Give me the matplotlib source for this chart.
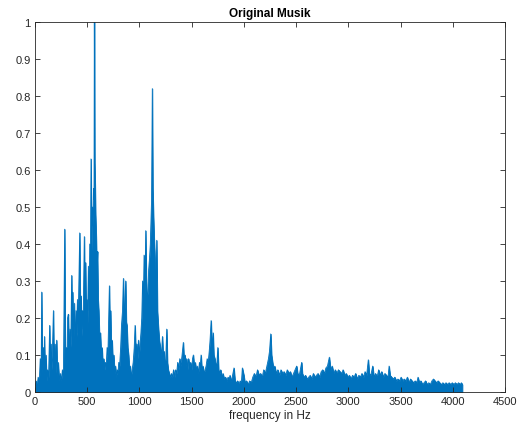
import matplotlib
matplotlib.use("Agg")
import matplotlib.pyplot as plt

# outline of the spectrum (Hz, normalized magnitude)
freq = [0, 10, 20, 30, 40, 50, 58, 64, 70, 80, 86, 90, 96, 104, 112, 120, 130, 140, 146, 152,
        158, 166, 176, 182, 190, 198, 207, 214, 222, 232, 242, 252, 262, 272, 284, 290, 300, 306, 312, 319,
        326, 334, 342, 351, 356, 361, 368, 376, 384, 392, 398, 406, 412, 420, 428, 434, 440, 446, 454, 460,
        466, 472, 478, 484, 490, 496, 502, 511, 518, 524, 530, 536, 542, 548, 554, 560, 565, 568, 572, 576,
        580, 586, 592, 598, 604, 610, 618, 626, 634, 642, 650, 658, 666, 674, 682, 690, 698, 706, 712, 718,
        724, 730, 738, 746, 754, 762, 770, 778, 786, 794, 802, 810, 820, 828, 838, 846, 852, 860, 868, 874,
        880, 888, 896, 904, 912, 920, 930, 940, 950, 958, 966, 974, 982, 990, 998, 1006, 1014, 1022, 1030, 1038,
        1044, 1052, 1060, 1066, 1072, 1080, 1088, 1096, 1104, 1110, 1116, 1123, 1128, 1134, 1140, 1146, 1152, 1160, 1165, 1172,
        1180, 1190, 1200, 1210, 1220, 1228, 1236, 1244, 1252, 1261, 1268, 1276, 1286, 1296, 1306, 1316, 1326, 1336, 1346, 1356,
        1366, 1376, 1386, 1396, 1408, 1420, 1428, 1436, 1444, 1452, 1460, 1470, 1480, 1490, 1500, 1508, 1516, 1524, 1534, 1544,
        1554, 1564, 1574, 1582, 1590, 1598, 1608, 1618, 1628, 1638, 1648, 1658, 1668, 1676, 1686, 1694, 1705, 1712, 1722, 1732,
        1742, 1750, 1758, 1768, 1778, 1790, 1800, 1812, 1824, 1836, 1848, 1858, 1867, 1876, 1888, 1905, 1915, 1928, 1940, 1952,
        1964, 1976, 1985, 2000, 2010, 2025, 2040, 2055, 2070, 2085, 2100, 2115, 2130, 2145, 2160, 2175, 2190, 2205, 2220, 2235,
        2245, 2257, 2265, 2275, 2285, 2295, 2310, 2325, 2340, 2355, 2370, 2385, 2400, 2415, 2430, 2445, 2460, 2475, 2490, 2505,
        2515, 2530, 2553, 2560, 2575, 2590, 2605, 2620, 2635, 2650, 2665, 2680, 2695, 2710, 2725, 2740, 2755, 2770, 2785, 2800,
        2818, 2830, 2845, 2860, 2875, 2890, 2905, 2920, 2935, 2950, 2965, 2980, 2995, 3010, 3025, 3040, 3055, 3070, 3085, 3100,
        3115, 3130, 3145, 3160, 3175, 3191, 3200, 3215, 3233, 3245, 3260, 3275, 3290, 3305, 3320, 3335, 3350, 3365, 3380, 3390,
        3400, 3415, 3430, 3445, 3460, 3475, 3490, 3505, 3520, 3535, 3550, 3565, 3580, 3595, 3610, 3625, 3640, 3655, 3667, 3680,
        3695, 3710, 3725, 3740, 3755, 3770, 3785, 3800, 3815, 3830, 3845, 3860, 3875, 3890, 3905, 3920, 3935, 3950, 3965, 3980,
        3995, 4010, 4025, 4040, 4055, 4070, 4082, 4092]
magnitude = [0.01, 0.03, 0.015, 0.04, 0.02, 0.09, 0.03, 0.27, 0.05, 0.12, 0.04, 0.15, 0.05, 0.10, 0.03, 0.06, 0.04, 0.18, 0.05, 0.13,
             0.06, 0.10, 0.22, 0.06, 0.13, 0.05, 0.14, 0.04, 0.08, 0.03, 0.05, 0.03, 0.06, 0.04, 0.44, 0.08, 0.12, 0.07, 0.20, 0.21,
             0.10, 0.17, 0.12, 0.315, 0.15, 0.27, 0.14, 0.24, 0.13, 0.22, 0.15, 0.25, 0.16, 0.30, 0.43, 0.20, 0.26, 0.15, 0.22, 0.17,
             0.30, 0.42, 0.22, 0.35, 0.20, 0.25, 0.17, 0.34, 0.22, 0.40, 0.30, 0.63, 0.38, 0.50, 0.45, 0.55, 0.52, 1.0, 0.62, 0.56,
             0.48, 0.42, 0.34, 0.38, 0.25, 0.22, 0.14, 0.16, 0.10, 0.12, 0.07, 0.09, 0.06, 0.08, 0.07, 0.12, 0.10, 0.20, 0.287, 0.15,
             0.22, 0.12, 0.14, 0.08, 0.10, 0.05, 0.07, 0.04, 0.06, 0.05, 0.08, 0.07, 0.12, 0.18, 0.22, 0.307, 0.20, 0.24, 0.30, 0.19,
             0.18, 0.12, 0.10, 0.06, 0.07, 0.04, 0.06, 0.08, 0.12, 0.18, 0.10, 0.13, 0.09, 0.14, 0.10, 0.13, 0.16, 0.20, 0.30, 0.25,
             0.37, 0.26, 0.436, 0.30, 0.25, 0.27, 0.33, 0.36, 0.40, 0.46, 0.52, 0.82, 0.55, 0.48, 0.42, 0.38, 0.33, 0.30, 0.41, 0.22,
             0.18, 0.14, 0.12, 0.10, 0.15, 0.09, 0.11, 0.07, 0.09, 0.17, 0.08, 0.06, 0.05, 0.04, 0.05, 0.04, 0.06, 0.04, 0.06, 0.05,
             0.08, 0.06, 0.09, 0.07, 0.10, 0.134, 0.08, 0.10, 0.07, 0.09, 0.06, 0.09, 0.07, 0.08, 0.06, 0.09, 0.10, 0.07, 0.08, 0.06,
             0.07, 0.05, 0.08, 0.07, 0.10, 0.06, 0.07, 0.05, 0.06, 0.07, 0.09, 0.08, 0.11, 0.14, 0.193, 0.12, 0.16, 0.10, 0.09, 0.07,
             0.08, 0.12, 0.06, 0.05, 0.06, 0.04, 0.05, 0.035, 0.04, 0.03, 0.04, 0.035, 0.045, 0.03, 0.04, 0.065, 0.03, 0.025, 0.03, 0.02,
             0.03, 0.025, 0.065, 0.045, 0.025, 0.03, 0.02, 0.03, 0.025, 0.04, 0.05, 0.04, 0.06, 0.045, 0.05, 0.04, 0.06, 0.05, 0.07, 0.09,
             0.11, 0.157, 0.10, 0.08, 0.06, 0.07, 0.05, 0.06, 0.045, 0.06, 0.05, 0.055, 0.045, 0.06, 0.05, 0.055, 0.04, 0.05, 0.06, 0.07,
             0.05, 0.045, 0.08, 0.05, 0.04, 0.045, 0.035, 0.04, 0.045, 0.035, 0.05, 0.04, 0.045, 0.05, 0.04, 0.055, 0.06, 0.05, 0.065, 0.07,
             0.094, 0.06, 0.07, 0.05, 0.06, 0.05, 0.06, 0.055, 0.05, 0.06, 0.045, 0.05, 0.04, 0.045, 0.035, 0.045, 0.04, 0.05, 0.035, 0.045,
             0.04, 0.05, 0.04, 0.055, 0.045, 0.087, 0.05, 0.045, 0.07, 0.04, 0.05, 0.04, 0.06, 0.045, 0.055, 0.04, 0.05, 0.045, 0.04, 0.07,
             0.045, 0.04, 0.035, 0.04, 0.03, 0.035, 0.03, 0.04, 0.03, 0.035, 0.03, 0.04, 0.025, 0.035, 0.03, 0.025, 0.03, 0.025, 0.04, 0.025,
             0.03, 0.02, 0.025, 0.03, 0.02, 0.025, 0.02, 0.03, 0.035, 0.03, 0.025, 0.03, 0.025, 0.02, 0.025, 0.02, 0.025, 0.02, 0.025, 0.02,
             0.025, 0.02, 0.025, 0.02, 0.025, 0.02, 0.025, 0.02]

x_ticks = [0, 500, 1000, 1500, 2000, 2500, 3000, 3500, 4000, 4500]
y_ticks = [0, 0.1, 0.2, 0.3, 0.4, 0.5, 0.6, 0.7, 0.8, 0.9, 1]
y_labels = ["0", "0.1", "0.2", "0.3", "0.4", "0.5", "0.6", "0.7", "0.8", "0.9", "1"]

plt.rcParams['font.family'] = ['Liberation Sans', 'DejaVu Sans']

fig = plt.figure(figsize=(5.23, 4.31), dpi=100)
ax = fig.add_axes([0.0669, 0.0882, 0.8987, 0.8584])

blue = "#0072BD"
ax.fill_between(freq, 0, magnitude, color=blue, linewidth=0.6, edgecolor=blue)
ax.plot(freq, magnitude, color=blue, linewidth=0.6)

ax.set_xlim(0, 4500)
ax.set_ylim(0, 1)
ax.set_xticks(x_ticks)
ax.set_yticks(y_ticks)
ax.set_yticklabels(y_labels)
ax.tick_params(direction="in", length=3.5, width=0.6, labelsize=8, colors="#262626",
               top=True, right=True, pad=3)
for s in ax.spines.values():
    s.set_color("#262626")
    s.set_linewidth(0.6)

ax.set_title("Original Musik", fontsize=8.5, fontweight="bold", pad=4)
ax.set_xlabel("frequency in Hz", fontsize=8.5, labelpad=2, color="#262626")

fig.savefig("out.png", dpi=100)
